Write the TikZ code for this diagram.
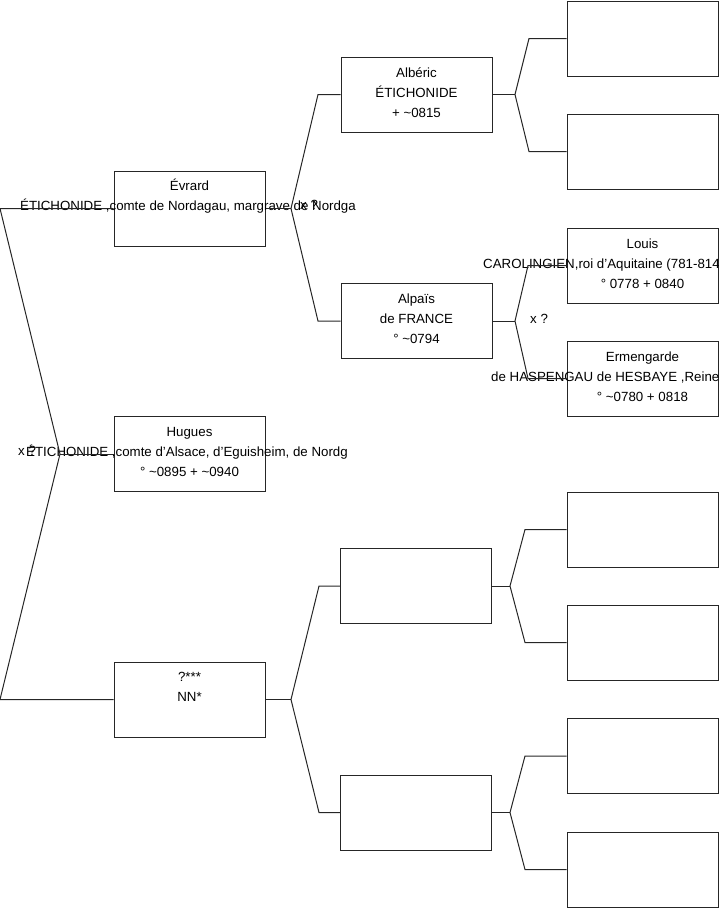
\documentclass[tikz,border=0pt]{standalone}
\usepackage{fontspec}
\setmainfont{Liberation Sans}
\begin{document}
\begin{tikzpicture}[x=1pt,y=-1pt,
  pbox/.style={draw=black!85,line width=1pt,minimum width=151pt,minimum height=75pt,inner sep=0pt},
  ln/.style={font=\fontsize{13.3}{16}\selectfont,inner sep=0pt,text height=9pt,text depth=3pt},
  wire/.style={draw=black!85,line width=1pt}]
\useasboundingbox (0,0) rectangle (719,908);
% boxes
\node[pbox] (evr) at (189.5,208.5) {};
\node[pbox] (hug) at (189.5,454) {};
\node[pbox] (nn)  at (189.5,699.5) {};
\node[pbox] (alb) at (416.5,94.5) {};
\node[pbox] (alp) at (416.5,321) {};
\node[pbox] (mA)  at (416,586) {};
\node[pbox] (mB)  at (416,812.5) {};
\node[pbox] (g1)  at (642.5,38.5) {};
\node[pbox] (g2)  at (642.5,151.5) {};
\node[pbox] (lou) at (642.5,265.5) {};
\node[pbox] (erm) at (642.5,378.5) {};
\node[pbox] (g5)  at (642.5,529.5) {};
\node[pbox] (g6)  at (642.5,642.5) {};
\node[pbox] (g7)  at (642.5,756) {};
\node[pbox] (g8)  at (642.5,869.5) {};
% texts
\node[ln] (t1a) at (189.5,187.5) {Évrard};
\node[ln] (t1b) at (188,207.5) {ÉTICHONIDE ,comte de Nordagau, margrave de Nordga};
\node[ln] (t2a) at (189.5,433.5) {Hugues};
\node[ln] (t2b) at (187,453.5) {ÉTICHONIDE ,comte d'Alsace, d'Eguisheim, de Nordg};
\node[ln] (t2c) at (189.5,473.5) {° \textasciitilde0895 + \textasciitilde0940};
\node[ln] (t3a) at (189.5,678.5) {?***};
\node[ln] (t3b) at (189.5,698.5) {NN*};
\node[ln] (t4a) at (416.5,74) {Albéric};
\node[ln] (t4b) at (416.5,94) {ÉTICHONIDE};
\node[ln] (t4c) at (416.5,114) {+ \textasciitilde0815};
\node[ln] (t5a) at (416.5,300.5) {Alpaïs};
\node[ln] (t5b) at (416.5,320.5) {de FRANCE};
\node[ln] (t5c) at (416.5,340.5) {° \textasciitilde0794};
\node[ln] (t6a) at (642.5,245) {Louis};
\node[ln,anchor=west] (t6b) at (483,265) {CAROLINGIEN,roi d'Aquitaine (781-814};
\node[ln] (t6c) at (642.5,285) {° 0778 + 0840};
\node[ln] (t7a) at (642.5,358) {Ermengarde};
\node[ln,anchor=west] (t7b) at (491,378) {de HASPENGAU de HESBAYE ,Reine};
\node[ln] (t7c) at (642.5,398) {° \textasciitilde0780 + 0818};
% marriage labels
\node[ln,anchor=west] (x0) at (18,452.5) {x ?};
\node[ln,anchor=west] (x1) at (300,206.5) {x ?};
\node[ln,anchor=west] (x2) at (530,320.5) {x ?};
% fork coordinates
\coordinate (v0) at (60,454);
\coordinate (v0a) at (0,208.5);
\coordinate (v0b) at (0,699.5);
\coordinate (v1) at (291,208.5);
\coordinate (v1a) at (318,94.5);
\coordinate (v1b) at (318,321);
\coordinate (v2) at (515,94.5);
\coordinate (v2a) at (529,38.5);
\coordinate (v2b) at (529,151.5);
\coordinate (v3) at (515,321);
\coordinate (v3a) at (528,265.5);
\coordinate (v3b) at (528,378.5);
\coordinate (v4) at (291,699.5);
\coordinate (v4a) at (319,586);
\coordinate (v4b) at (319,812.5);
\coordinate (v5) at (510,586);
\coordinate (v5a) at (525,529.5);
\coordinate (v5b) at (525,642.5);
\coordinate (v6) at (510,812.5);
\coordinate (v6a) at (525,756);
\coordinate (v6b) at (525,869.5);
% connectors
\draw[wire] (evr.west) -- (v0a) -- (v0) -- (v0b) -- (nn.west);
\draw[wire] (v0) -- (hug.west);
\draw[wire] (alb.west) -- (v1a) -- (v1) -- (v1b) -- (alp.west);
\draw[wire] (v1) -- (evr.east);
\draw[wire] (g1.west) -- (v2a) -- (v2) -- (v2b) -- (g2.west);
\draw[wire] (v2) -- (alb.east);
\draw[wire] (lou.west) -- (v3a) -- (v3) -- (v3b) -- (erm.west);
\draw[wire] (v3) -- (alp.east);
\draw[wire] (mA.west) -- (v4a) -- (v4) -- (v4b) -- (mB.west);
\draw[wire] (v4) -- (nn.east);
\draw[wire] (g5.west) -- (v5a) -- (v5) -- (v5b) -- (g6.west);
\draw[wire] (v5) -- (mA.east);
\draw[wire] (g7.west) -- (v6a) -- (v6) -- (v6b) -- (g8.west);
\draw[wire] (v6) -- (mB.east);
\end{tikzpicture}
\end{document}
